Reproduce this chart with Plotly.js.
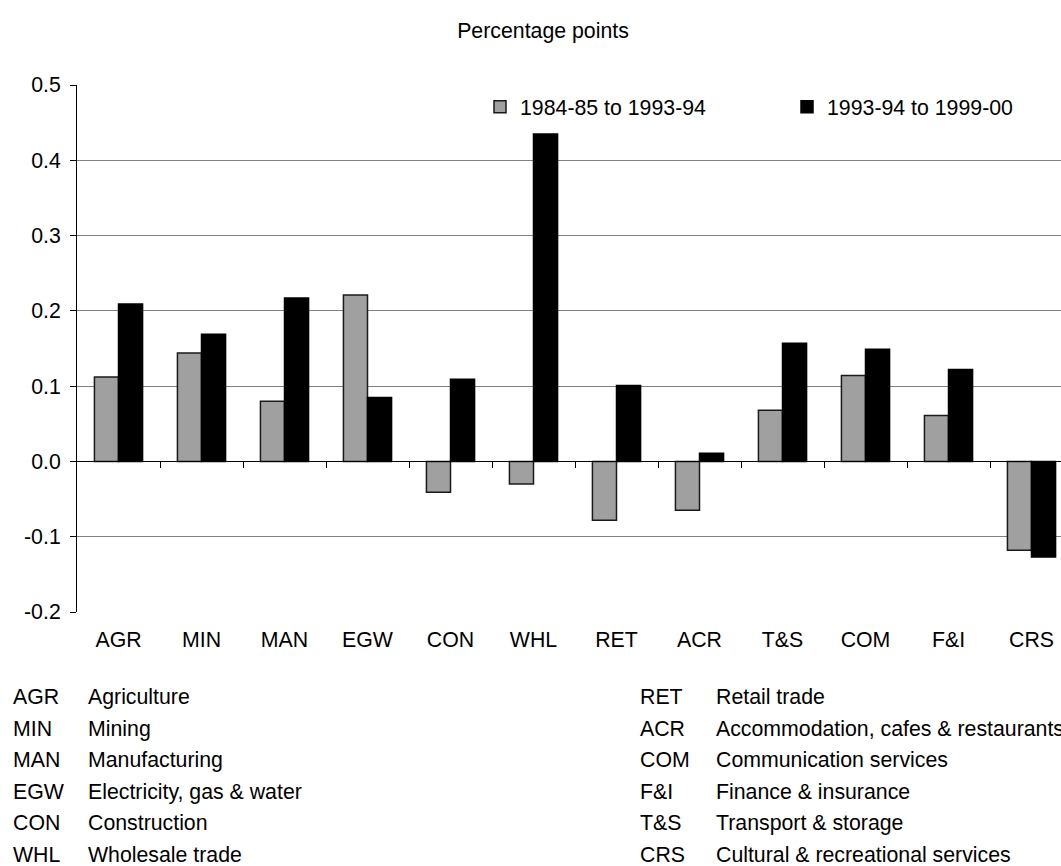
<!DOCTYPE html>
<html>
<head>
<meta charset="utf-8">
<script src="https://cdn.plot.ly/plotly-3.0.1.min.js"></script>
<style>
  html, body { margin: 0; padding: 0; overflow: hidden; background: #fff; }
  #chart { width: 1100px; height: 866px; }
</style>
</head>
<body>
<div id="chart"></div>
<script>
// ---- Data ----
var categories = ["AGR", "MIN", "MAN", "EGW", "CON", "WHL", "RET", "ACR", "T&S", "COM", "F&I", "CRS"];
var series1Name = "1984-85 to 1993-94";
var series2Name = "1993-94 to 1999-00";
var series1 = [0.112, 0.144, 0.080, 0.221, -0.041, -0.030, -0.078, -0.065, 0.068, 0.114, 0.061, -0.118];
var series2 = [0.209, 0.169, 0.217, 0.085, 0.109, 0.435, 0.101, 0.011, 0.157, 0.149, 0.122, -0.127];
var yTickVals = [-0.2, -0.1, 0.0, 0.1, 0.2, 0.3, 0.4, 0.5];
var yTickText = ["-0.2", "-0.1", "0.0", "0.1", "0.2", "0.3", "0.4", "0.5"];
var titleText = "Percentage points";
var glossLeftCodes = ["AGR", "MIN", "MAN", "EGW", "CON", "WHL"];
var glossLeftNames = ["Agriculture", "Mining", "Manufacturing", "Electricity, gas & water", "Construction", "Wholesale trade"];
var glossRightCodes = ["RET", "ACR", "COM", "F&I", "T&S", "CRS"];
var glossRightNames = ["Retail trade", "Accommodation, cafes & restaurants", "Communication services", "Finance & insurance", "Transport & storage", "Cultural & recreational services"];

// ---- Layout geometry (pixels) ----
var FIG_W = 1100, FIG_H = 866;
var M = { l: 77, r: 27, t: 85, b: 254, autoexpand: false };
var plotW = FIG_W - M.l - M.r;
var plotH = FIG_H - M.t - M.b;
function px2x(px) { return (px - M.l) / plotW; }
function py2y(py) { return (FIG_H - M.b - py) / plotH; }

var FONT = "'Liberation Sans', Arial, Helvetica, sans-serif";
var FS = 21.3;

var traces = [
  {
    type: "bar", name: series1Name, x: categories, y: series1,
    marker: { color: "#a0a0a0", line: { color: "#1a1a1a", width: 1.5 } },
    hoverinfo: "x+y"
  },
  {
    type: "bar", name: series2Name, x: categories, y: series2,
    marker: { color: "#000000", line: { color: "#000000", width: 1.5 } },
    hoverinfo: "x+y"
  },
  {
    type: "scatter", x: [], y: [], xaxis: "x2", yaxis: "y",
    showlegend: false, hoverinfo: "skip"
  }
];

var boundaryTicks = [];
for (var i = 0; i < categories.length - 1; i++) boundaryTicks.push(i + 0.5);

var annotations = [];
var rowY = [697, 728.5, 760, 791.5, 823, 854.5];
for (var k = 0; k < glossLeftCodes.length; k++) {
  annotations.push({ xref: "paper", yref: "paper", x: px2x(11), y: py2y(rowY[k]), xanchor: "left", yanchor: "middle",
    text: glossLeftCodes[k], showarrow: false, font: { family: FONT, size: FS, color: "#000" } });
  annotations.push({ xref: "paper", yref: "paper", x: px2x(86), y: py2y(rowY[k]), xanchor: "left", yanchor: "middle",
    text: glossLeftNames[k], showarrow: false, font: { family: FONT, size: FS, color: "#000" } });
  annotations.push({ xref: "paper", yref: "paper", x: px2x(638), y: py2y(rowY[k]), xanchor: "left", yanchor: "middle",
    text: glossRightCodes[k], showarrow: false, font: { family: FONT, size: FS, color: "#000" } });
  annotations.push({ xref: "paper", yref: "paper", x: px2x(714), y: py2y(rowY[k]), xanchor: "left", yanchor: "middle",
    text: glossRightNames[k], showarrow: false, font: { family: FONT, size: FS, color: "#000" } });
}

var layout = {
  width: FIG_W, height: FIG_H,
  margin: M,
  paper_bgcolor: "#ffffff", plot_bgcolor: "#ffffff",
  font: { family: FONT, size: FS, color: "#000" },
  title: {
    text: titleText, font: { family: FONT, size: FS, color: "#000" },
    xref: "container", yref: "container", x: 543 / FIG_W, y: 1 - 31 / FIG_H,
    xanchor: "center", yanchor: "middle"
  },
  barmode: "group",
  bargap: 0.42, bargroupgap: 0,
  showlegend: true,
  legend: {
    orientation: "h", x: px2x(480), y: py2y(107), xanchor: "left", yanchor: "middle",
    bgcolor: "rgba(0,0,0,0)", font: { family: FONT, size: FS, color: "#000" },
    entrywidth: 262, entrywidthmode: "pixels", itemwidth: 30, traceorder: "normal"
  },
  xaxis: {
    type: "category", range: [-0.5, categories.length - 0.5],
    showgrid: false, zeroline: false, showline: false, ticks: "",
    tickfont: { family: FONT, size: FS, color: "#000" },
    ticklabelstandoff: 13, fixedrange: true
  },
  xaxis2: {
    overlaying: "x", anchor: "free", position: 0.2 / 0.7, side: "bottom",
    type: "linear", range: [-0.5, categories.length - 0.5],
    tickmode: "array", tickvals: boundaryTicks, ticks: "outside", ticklen: 6, tickwidth: 1, tickcolor: "#000",
    showticklabels: false, showgrid: false, zeroline: false,
    showline: true, linecolor: "#000", linewidth: 1, fixedrange: true
  },
  yaxis: {
    range: [-0.2, 0.5], tickmode: "array", tickvals: yTickVals, ticktext: yTickText,
    showgrid: true, gridcolor: "#808080", gridwidth: 1,
    zeroline: false, showline: true, linecolor: "#000", linewidth: 1,
    ticks: "outside", ticklen: 6, tickcolor: "#000",
    tickfont: { family: FONT, size: FS, color: "#000" },
    ticklabelstandoff: 5, fixedrange: true
  },
  annotations: annotations
};

Plotly.newPlot("chart", traces, layout, { displayModeBar: false, staticPlot: true });
</script>
</body>
</html>
